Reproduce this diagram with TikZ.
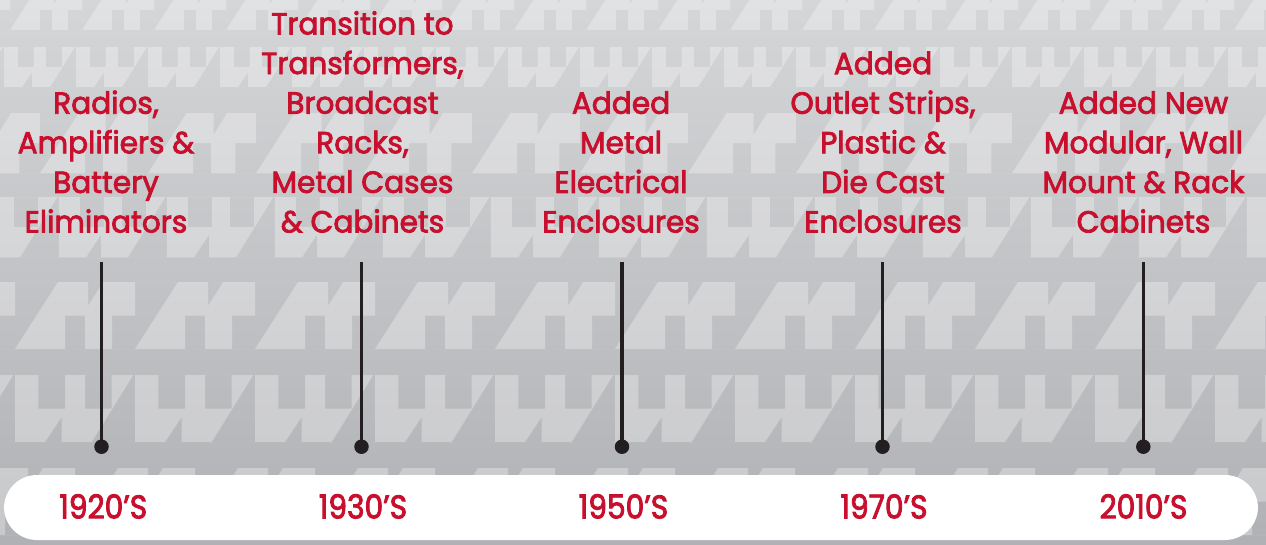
\documentclass[tikz,border=0pt]{standalone}
\usepackage{fontspec}
\newfontfamily\tlfont{Poppins}[FakeStretch=0.97, FakeBold=2.6]
\newfontfamily\yrfont{Poppins}[FakeStretch=0.9, FakeBold=2.6]
\definecolor{hred}{RGB}{200,16,46}
\definecolor{hline}{RGB}{35,31,32}
\definecolor{bgtop}{RGB}{213,214,216}
\definecolor{bgbot}{RGB}{176,177,180}
\tikzset{
  lightfill/.style={fill=white, fill opacity=0.30, even odd rule},
  title/.style={font=\tlfont\fontsize{30.5}{39.6}\selectfont, text=hred, align=center, anchor=south, inner sep=0pt},
  year/.style={font=\yrfont\fontsize{33}{36}\selectfont, text=hred, anchor=base, inner sep=0pt},
  stem/.style={draw=hline, line width=3.5pt},
  dot/.style={circle, fill=hline, minimum size=14.5pt, inner sep=0pt},
  bar/.style={fill=white, rounded corners=33pt},
}
\newcommand\Hrow[3]{%
  \begin{scope}[shift={(#1,#2)}, scale=#3]
    \fill[lightfill] (-400,0) rectangle (2600,67)
      \foreach \k in {-3,...,21} {
        ({\k*120+97},67) -- ({\k*120+97},33.5) -- ({\k*120+120},33.5) -- ({\k*120+120},0)
          -- ({\k*120+163},0) -- ({\k*120+120},67) -- cycle
        ({\k*120+50},33.5) rectangle ({\k*120+70},67)
        ({\k*120+73},0) -- ({\k*120+88},0) -- ({\k*120+73},24) -- cycle
      };
  \end{scope}}
\newcommand\Wrow[3]{%
  \begin{scope}[shift={(#1,#2)}, scale=#3]
    \fill[lightfill] (-400,0) rectangle (2600,67)
      \foreach \k in {-3,...,21} {
        ({\k*120-53.4},0) rectangle ({\k*120-26.7},33.5)
        ({\k*120-6.7},0) rectangle ({\k*120+20},33.5)
        ({\k*120},67) -- ({\k*120+41.6},0) -- ({\k*120+43.3},0) -- ({\k*120+43.3},67) -- cycle
        ({\k*120-46.7},67) -- ({\k*120-30},42) -- ({\k*120-30},67) -- cycle
      };
  \end{scope}}
\begin{document}
\begin{tikzpicture}[x=1pt, y=-1pt]
  \useasboundingbox (0,0) rectangle (1266,544);
  \clip (0,0) rectangle (1266,544);
  % background
  \shade[top color=bgtop, bottom color=bgbot] (0,0) rectangle (1266,544);
  % pattern rows
  \Hrow{10}{-10}{0.6}
  \Wrow{50}{47}{0.6}
  \Hrow{40}{113}{0.9}
  \Wrow{20}{197}{0.9}
  \Hrow{15}{282}{1}
  \Wrow{91.7}{375}{1}
  \Hrow{75}{468}{1}
  % bottom bar
  \fill[bar] (4,475) rectangle (1258,540);
  % titles
  \node[title] (t1) at (106,233) {Radios,\\Amplifiers \&\\Battery\\Eliminators};
  \node[title] (t2) at (362.5,233) {Transition to\\Transformers,\\Broadcast\\Racks,\\Metal Cases\\\& Cabinets};
  \node[title] (t3) at (621,233) {Added\\Metal\\Electrical\\Enclosures};
  \node[title] (t4) at (883,233) {Added\\Outlet Strips,\\Plastic \&\\Die Cast\\Enclosures};
  \node[title] (t5) at (1143.5,233) {Added New\\Modular, Wall\\Mount \& Rack\\Cabinets};
  % stems
  \coordinate (s1) at (101.5,262);
  \coordinate (s2) at (361.5,262);
  \coordinate (s3) at (622,262);
  \coordinate (s4) at (882.5,262);
  \coordinate (s5) at (1143.3,262);
  \node[dot] (d1) at (101.5,446.7) {};
  \node[dot] (d2) at (361.5,446.7) {};
  \node[dot] (d3) at (622,446.7) {};
  \node[dot] (d4) at (882.5,446.7) {};
  \node[dot] (d5) at (1143.3,446.7) {};
  \draw[stem] (s1) -- (d1.center);
  \draw[stem] (s2) -- (d2.center);
  \draw[stem] (s3) -- (d3.center);
  \draw[stem] (s4) -- (d4.center);
  \draw[stem] (s5) -- (d5.center);
  % years
  \node[year] (y1) at (103.3,518.5) {1920’S};
  \node[year] (y2) at (363,518.5) {1930’S};
  \node[year] (y3) at (623.5,518.5) {1950’S};
  \node[year] (y4) at (884,518.5) {1970’S};
  \node[year] (y5) at (1143.5,518.5) {2010’S};
\end{tikzpicture}
\end{document}
